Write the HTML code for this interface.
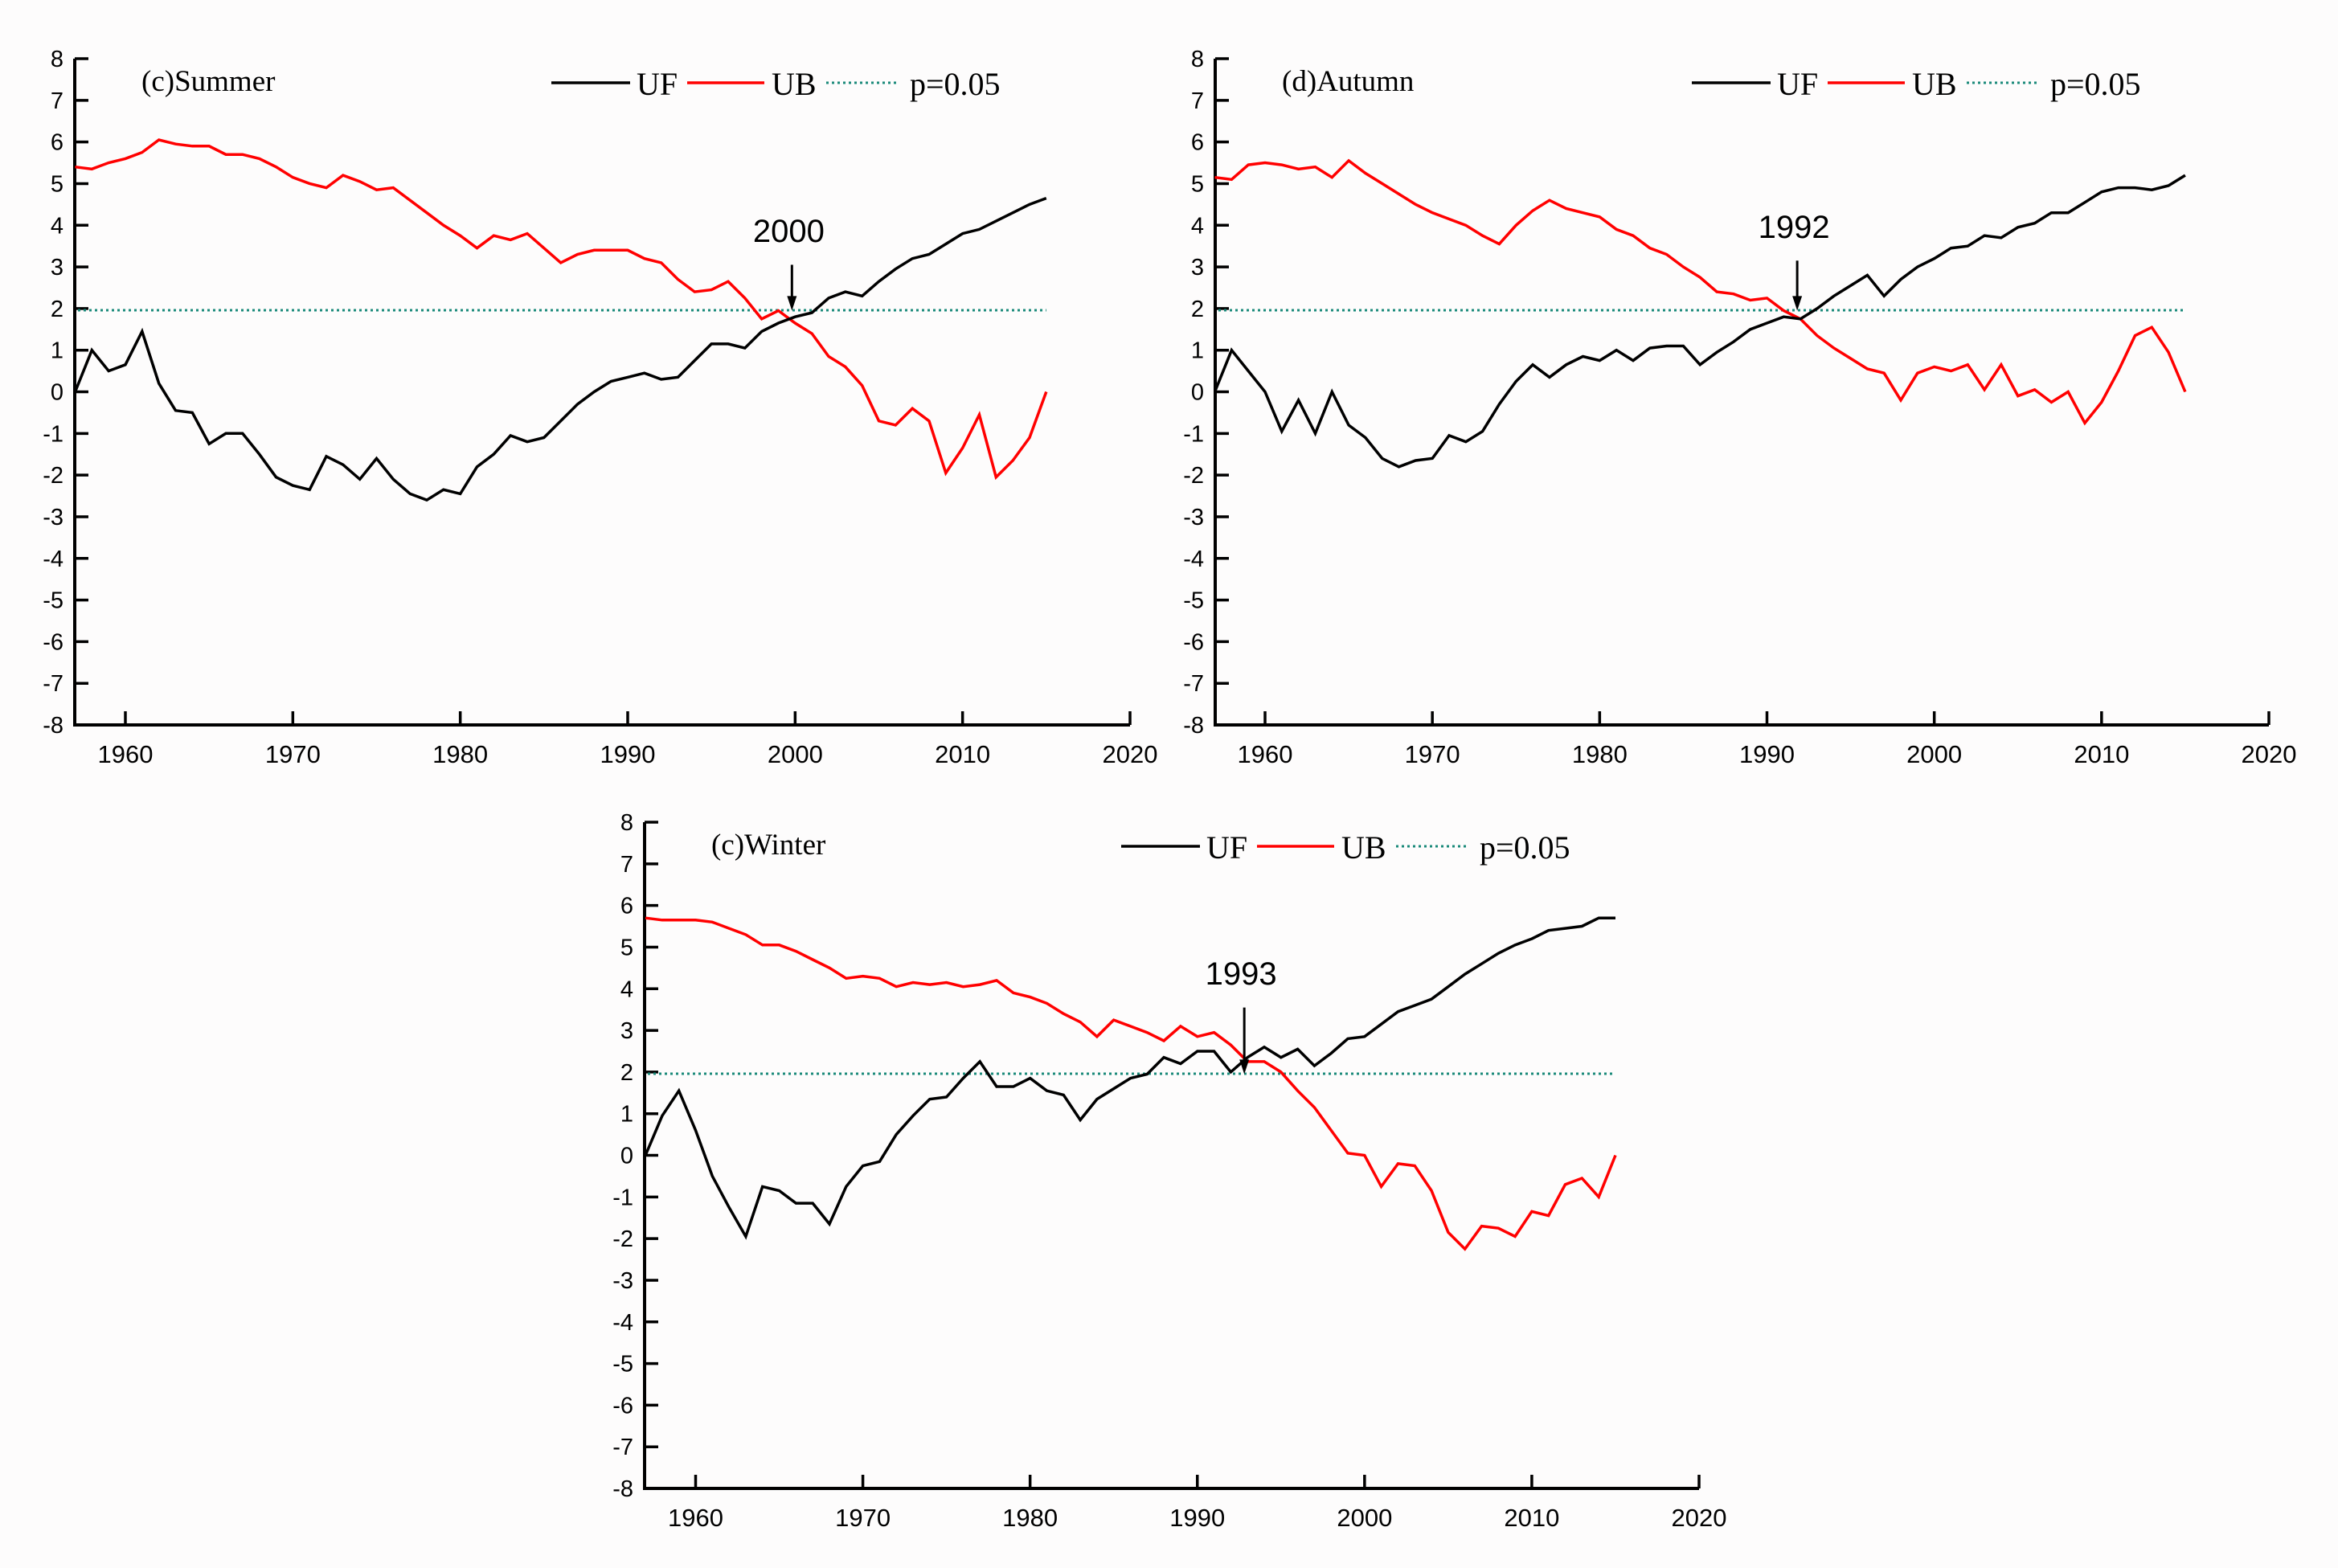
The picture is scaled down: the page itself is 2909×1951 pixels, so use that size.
<!DOCTYPE html>
<html><head><meta charset="utf-8"><style>
html,body{margin:0;padding:0;background:#fff;}
svg{display:block;}
text{font-family:"Liberation Sans",sans-serif;}
.serif{font-family:"Liberation Serif",serif;}
</style></head><body>
<svg id="chart" width="2909" height="1951" viewBox="0 0 2909 1951" xmlns="http://www.w3.org/2000/svg">
<rect x="0" y="0" width="2909" height="1951" fill="#fdfcfc"/>
</svg>
<script>
const years = [];
for (let y = 1957; y <= 2015; y++) years.push(y);
const yTicks = [8,7,6,5,4,3,2,1,0,-1,-2,-3,-4,-5,-6,-7,-8];
const xTicks = [1960,1970,1980,1990,2000,2010,2020];
const threshold = 1.96;
const summerUF = [0,1.0,0.5,0.65,1.45,0.2,-0.45,-0.5,-1.25,-1.0,-1.0,-1.5,-2.05,-2.25,-2.35,-1.55,-1.75,-2.1,-1.6,-2.1,-2.45,-2.6,-2.35,-2.45,-1.8,-1.5,-1.05,-1.2,-1.1,-0.7,-0.3,0.0,0.25,0.35,0.45,0.3,0.35,0.75,1.15,1.15,1.05,1.45,1.65,1.8,1.9,2.25,2.4,2.3,2.65,2.95,3.2,3.3,3.55,3.8,3.9,4.1,4.3,4.5,4.65];
const summerUB = [5.4,5.35,5.5,5.6,5.75,6.05,5.95,5.9,5.9,5.7,5.7,5.6,5.4,5.15,5.0,4.9,5.2,5.05,4.85,4.9,4.6,4.3,4.0,3.75,3.45,3.75,3.65,3.8,3.45,3.1,3.3,3.4,3.4,3.4,3.2,3.1,2.7,2.4,2.45,2.65,2.25,1.75,1.95,1.65,1.4,0.85,0.6,0.15,-0.7,-0.8,-0.4,-0.7,-1.95,-1.35,-0.55,-2.05,-1.65,-1.1,0];
const autumnUF = [0,1.0,0.5,0,-0.95,-0.2,-1.0,0,-0.8,-1.1,-1.6,-1.8,-1.65,-1.6,-1.05,-1.2,-0.95,-0.3,0.25,0.65,0.35,0.65,0.85,0.75,1.0,0.75,1.05,1.1,1.1,0.65,0.95,1.2,1.5,1.65,1.8,1.75,2.0,2.3,2.55,2.8,2.3,2.7,3.0,3.2,3.45,3.5,3.75,3.7,3.95,4.05,4.3,4.3,4.55,4.8,4.9,4.9,4.85,4.95,5.2];
const autumnUB = [5.15,5.1,5.45,5.5,5.45,5.35,5.4,5.15,5.55,5.25,5.0,4.75,4.5,4.3,4.15,4.0,3.75,3.55,4.0,4.35,4.6,4.4,4.3,4.2,3.9,3.75,3.45,3.3,3.0,2.75,2.4,2.35,2.2,2.25,1.95,1.75,1.35,1.05,0.8,0.55,0.45,-0.2,0.45,0.6,0.5,0.65,0.05,0.65,-0.1,0.05,-0.25,0,-0.75,-0.25,0.5,1.35,1.55,0.95,0];
const winterUF = [0,0.95,1.55,0.6,-0.5,-1.25,-1.95,-0.75,-0.85,-1.15,-1.15,-1.65,-0.75,-0.25,-0.15,0.5,0.95,1.35,1.4,1.85,2.25,1.65,1.65,1.85,1.55,1.45,0.85,1.35,1.6,1.85,1.95,2.35,2.2,2.5,2.5,2.0,2.35,2.6,2.35,2.55,2.15,2.45,2.8,2.85,3.15,3.45,3.6,3.75,4.05,4.35,4.6,4.85,5.05,5.2,5.4,5.45,5.5,5.7,5.7];
const winterUB = [5.7,5.65,5.65,5.65,5.6,5.45,5.3,5.05,5.05,4.9,4.7,4.5,4.25,4.3,4.25,4.05,4.15,4.1,4.15,4.05,4.1,4.2,3.9,3.8,3.65,3.4,3.2,2.85,3.25,3.1,2.95,2.75,3.1,2.85,2.95,2.65,2.25,2.25,2.0,1.55,1.15,0.6,0.05,0,-0.75,-0.2,-0.25,-0.85,-1.85,-2.25,-1.7,-1.75,-1.95,-1.35,-1.45,-0.7,-0.55,-1.0,0];
const panelNames = ["summer","autumn","winter"];
const panelTitles = ["(c)Summer","(d)Autumn","(c)Winter"];
const panelUF = [summerUF, autumnUF, winterUF];
const panelUB = [summerUB, autumnUB, winterUB];
const changeYears = [2000, 1992, 1993];
const labelValues = [3.6, 3.7, 4.1];

const geo = [
  {ax:93, x1960:156, x2020:1406, top:73, bot:902},
  {ax:1512, x1960:1574, x2020:2823, top:73, bot:902},
  {ax:802, x1960:865.5, x2020:2114, top:1023, bot:1852}
];
const NS = "http://www.w3.org/2000/svg";
const svg = document.getElementById('chart');
function mk(tag, attrs, parent){
  const e = document.createElementNS(NS, tag);
  for (const k in attrs) e.setAttribute(k, attrs[k]);
  (parent||svg).appendChild(e);
  return e;
}
panelNames.forEach((name, i) => {
  const g0 = geo[i];
  const X = yr => g0.x1960 + (yr - 1960) * (g0.x2020 - g0.x1960) / 60;
  const Y = v => g0.bot - (v + 8) * (g0.bot - g0.top) / 16;
  const g = mk('g', {});
  
  
  const axes = mk('path', {d:`M${g0.ax},${g0.top} V${g0.bot} H${g0.x2020}`, fill:'none', stroke:'#000', 'stroke-width':4}, g);
  
  
  yTicks.forEach(t => {
    const tk = mk('line', {x1:g0.ax, x2:g0.ax+17, y1:Y(t), y2:Y(t), stroke:'#000', 'stroke-width':3.5}, g);
    
    
    const tl = mk('text', {x:g0.ax-14, y:Y(t)+10, 'text-anchor':'end', 'font-size':29, fill:'#000'}, g);
    tl.textContent = t;
    
    
  });
  xTicks.forEach(t => {
    const tk = mk('line', {x1:X(t), x2:X(t), y1:g0.bot, y2:g0.bot-17, stroke:'#000', 'stroke-width':3.5}, g);
    
    
    const tl = mk('text', {x:X(t), y:g0.bot+47, 'text-anchor':'middle', 'font-size':31, fill:'#000'}, g);
    tl.textContent = t;
    
    
  });
  const th = mk('line', {x1:g0.ax+4, x2:X(2015), y1:Y(threshold), y2:Y(threshold), stroke:'#1a8a7a', 'stroke-width':3, 'stroke-dasharray':'3 4'}, g);
  
  
  const line = (arr, col, nm) => {
    const d = arr.map((v, k) => (k ? 'L' : 'M') + X(years[k]).toFixed(1) + ',' + Y(v).toFixed(1)).join(' ');
    const p = mk('path', {d, fill:'none', stroke:col, 'stroke-width':3.5, 'stroke-linejoin':'miter'}, g);
    
    
  };
  line(panelUB[i], '#ff0000', 'ub-line');
  line(panelUF[i], '#000000', 'uf-line');
  const tt = mk('text', {x:g0.ax+83, y:g0.top+40, 'font-size':37, class:'serif', fill:'#000'}, g);
  tt.textContent = panelTitles[i];
  
  
  const ly = g0.top + 30;
  const lx = g0.ax + 593;
  const l1 = mk('line', {x1:lx, x2:lx+98, y1:ly, y2:ly, stroke:'#000', 'stroke-width':3.5}, g);
  
  
  const t1 = mk('text', {x:lx+106, y:ly+15, 'font-size':40, class:'serif', fill:'#000'}, g);
  t1.textContent = 'UF';
  
  
  const l2 = mk('line', {x1:lx+169, x2:lx+265, y1:ly, y2:ly, stroke:'#ff0000', 'stroke-width':3.5}, g);
  
  
  const t2 = mk('text', {x:lx+274, y:ly+15, 'font-size':40, class:'serif', fill:'#000'}, g);
  t2.textContent = 'UB';
  
  
  const l3 = mk('line', {x1:lx+342, x2:lx+432, y1:ly, y2:ly, stroke:'#1a8a7a', 'stroke-width':3, 'stroke-dasharray':'3 4'}, g);
  
  
  const t3 = mk('text', {x:lx+446, y:ly+15, 'font-size':40, class:'serif', fill:'#000'}, g);
  t3.textContent = 'p=0.05';
  
  
  const cy = changeYears[i];
  const al = mk('text', {x:X(cy)-8, y:Y(labelValues[i]), 'text-anchor':'middle', 'font-size':40, fill:'#000'}, g);
  al.textContent = cy;
  
  
  const ax = X(cy) - 4;
  const a1 = mk('line', {x1:ax, x2:ax, y1:Y(labelValues[i]-0.55), y2:Y(2.25), stroke:'#000', 'stroke-width':3}, g);
  
  
  const a2 = mk('path', {d:`M${ax-6},${Y(2.3)} L${ax+6},${Y(2.3)} L${ax},${Y(1.95)} Z`, fill:'#000'}, g);
  
  
});
</script>
</body></html>
